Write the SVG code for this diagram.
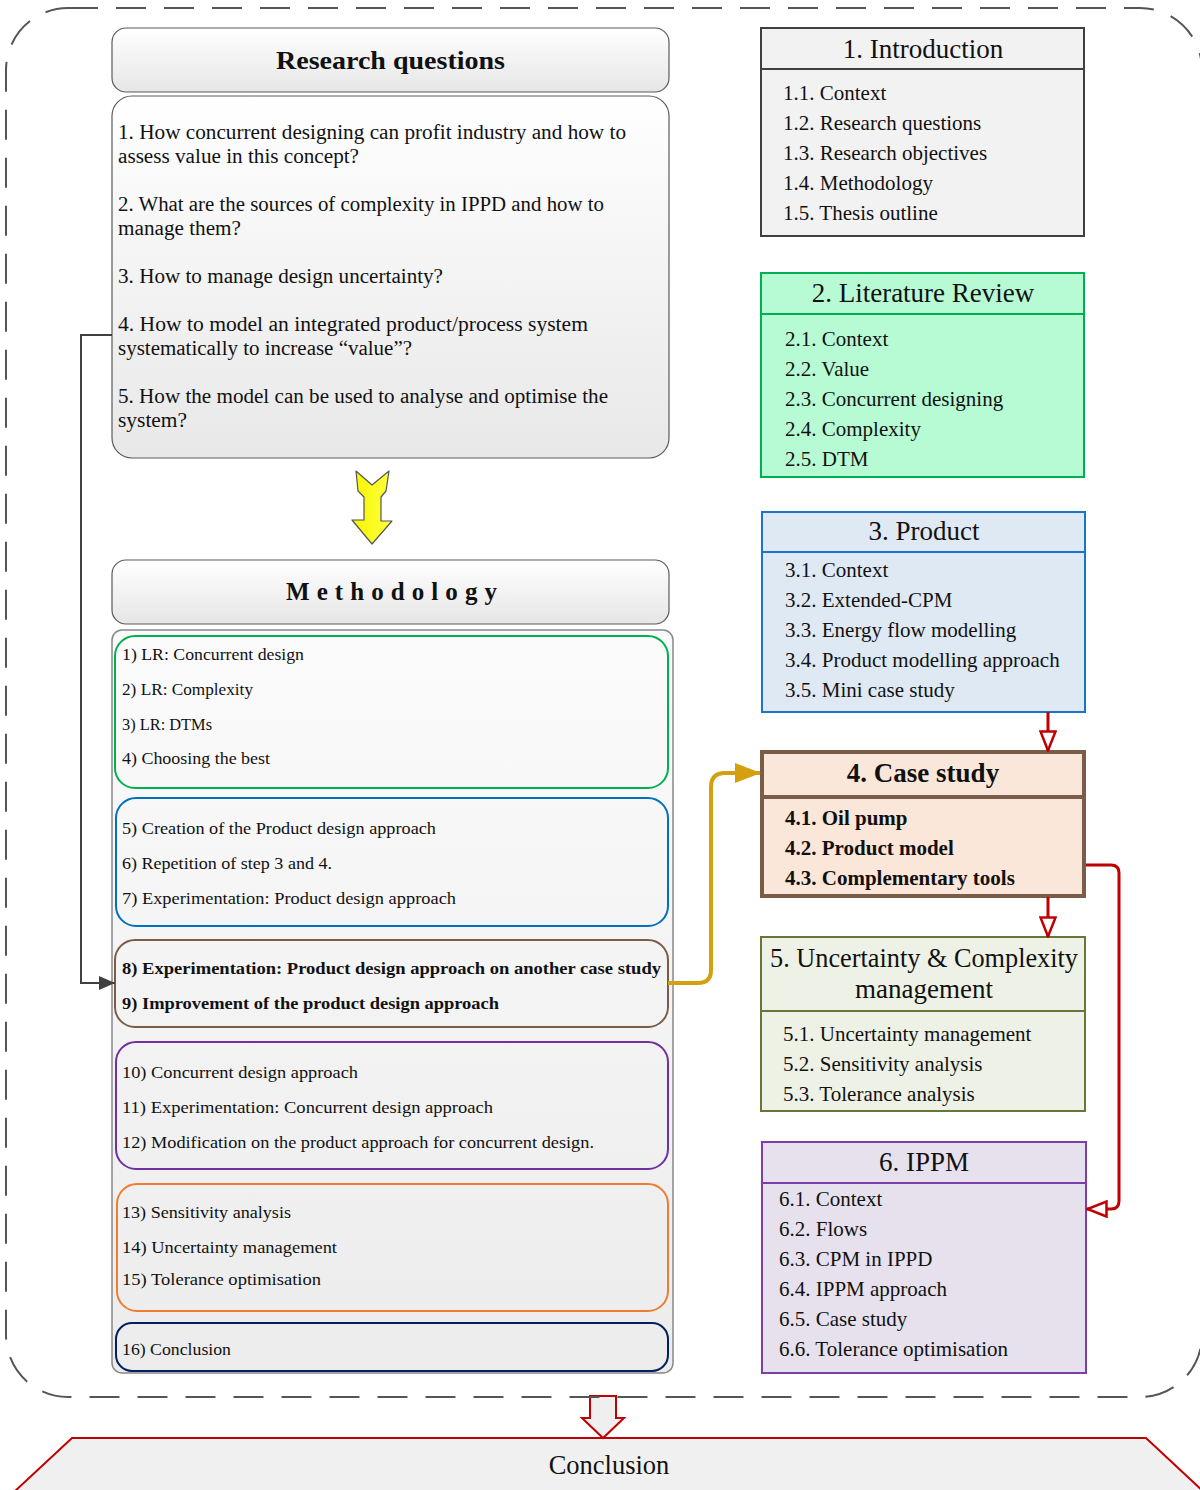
<svg xmlns="http://www.w3.org/2000/svg" width="1200" height="1490" viewBox="0 0 1200 1490">
<defs>
<linearGradient id="gHead" x1="0" y1="0" x2="0" y2="1"><stop offset="0" stop-color="#ffffff"/><stop offset="1" stop-color="#e6e6e6"/></linearGradient>
<linearGradient id="gBody" x1="0" y1="0" x2="0" y2="1"><stop offset="0" stop-color="#ffffff"/><stop offset="1" stop-color="#e8e8e8"/></linearGradient>
<linearGradient id="gMeth" x1="0" y1="0" x2="0" y2="1"><stop offset="0" stop-color="#fbfbfb"/><stop offset="1" stop-color="#ececec"/></linearGradient>
<linearGradient id="gYellow" x1="0" y1="0" x2="1" y2="0"><stop offset="0" stop-color="#f6f600"/><stop offset="1" stop-color="#ffff40"/></linearGradient>
<marker id="openRed" viewBox="0 0 22 18" refX="21" refY="9" markerWidth="22" markerHeight="18" markerUnits="userSpaceOnUse" orient="auto">
<path d="M1.5,1.5 L20.5,9 L1.5,16.5 Z" fill="#ffffff" stroke="#c00000" stroke-width="2.5"/>
</marker>
<marker id="gold" viewBox="0 0 26 20" refX="25" refY="10" markerWidth="26" markerHeight="20" markerUnits="userSpaceOnUse" orient="auto">
<path d="M0,0 L26,10 L0,20 Z" fill="#d4a010"/>
</marker>
<marker id="dark" viewBox="0 0 16 14" refX="16" refY="7" markerWidth="16" markerHeight="14" markerUnits="userSpaceOnUse" orient="auto">
<path d="M0,0 L16,7 L0,14 Z" fill="#404040"/>
</marker>
</defs>
<style>
text{font-family:"Liberation Serif","DejaVu Serif",serif;fill:#111}
.rq{font-size:20px}
.m{font-size:17.5px}
.mb{font-size:17.5px;font-weight:bold}
.t{font-size:27px;text-anchor:middle}
.it{font-size:21px}
.itb{font-size:21px;font-weight:bold}
.lbl{fill:none;stroke-width:2}
</style>
<rect width="1200" height="1490" fill="#ffffff"/>

<g id="conclusion">
<polygon points="14,1492 72,1438 1146,1438 1204,1492" fill="#f0f0f0" stroke="#c00000" stroke-width="2"/>
<text x="609" y="1474" style="font-size:26.5px;text-anchor:middle">Conclusion</text>
</g>

<g id="to-conclusion">
<polygon points="590,1396 616,1396 616,1418 624,1418 603,1438 582,1418 590,1418" fill="#efefef" stroke="#c00000" stroke-width="2"/>
</g>

<g id="frame">
<rect x="6" y="8" width="1196" height="1389" rx="62" ry="62" fill="none" stroke="#555555" stroke-width="2" stroke-dasharray="30 18"/>
</g>

<g id="research-questions">
<rect x="112" y="28" width="557" height="64" rx="14" fill="url(#gHead)" stroke="#5a5a5a" stroke-width="1.2"/>
<text x="276" y="69" textLength="229" lengthAdjust="spacingAndGlyphs" style="font-size:26px;font-weight:bold">Research questions</text>
<rect x="112" y="96" width="557" height="362" rx="20" fill="url(#gBody)" stroke="#5a5a5a" stroke-width="1.2"/>
<text class="rq" x="118" y="139" textLength="508" lengthAdjust="spacingAndGlyphs">1. How concurrent designing can profit industry and how to</text>
<text class="rq" x="118" y="163" textLength="241" lengthAdjust="spacingAndGlyphs">assess value in this concept?</text>
<text class="rq" x="118" y="211" textLength="486" lengthAdjust="spacingAndGlyphs">2. What are the sources of complexity in IPPD and how to</text>
<text class="rq" x="118" y="235" textLength="123" lengthAdjust="spacingAndGlyphs">manage them?</text>
<text class="rq" x="118" y="283" textLength="325" lengthAdjust="spacingAndGlyphs">3. How to manage design uncertainty?</text>
<text class="rq" x="118" y="331" textLength="470" lengthAdjust="spacingAndGlyphs">4. How to model an integrated product/process system</text>
<text class="rq" x="118" y="355" textLength="294" lengthAdjust="spacingAndGlyphs">systematically to increase “value”?</text>
<text class="rq" x="118" y="403" textLength="490" lengthAdjust="spacingAndGlyphs">5. How the model can be used to analyse and optimise the</text>
<text class="rq" x="118" y="427" textLength="69" lengthAdjust="spacingAndGlyphs">system?</text>
</g>

<g id="yellow-arrow">
<polygon points="356,471 372,485 389,471 386,491 381,497 381,521 392,521 372,544 352,520 364,520 364,497 358,491" fill="url(#gYellow)" stroke="#555555" stroke-width="1.2" stroke-linejoin="round"/>
</g>

<g id="methodology">
<rect x="112" y="560" width="557" height="64" rx="14" fill="url(#gHead)" stroke="#5a5a5a" stroke-width="1.2"/>
<text x="286" y="600" textLength="211" lengthAdjust="spacing" style="font-size:25px;font-weight:bold">Methodology</text>
<rect x="112" y="630" width="561" height="743" rx="10" fill="url(#gMeth)" stroke="#888888" stroke-width="1.5"/>
</g>

<g id="m-group1">
<rect x="115" y="636" width="553" height="152" rx="20" class="lbl" stroke="#00b050"/>
<text class="m" x="122" y="660" textLength="182" lengthAdjust="spacingAndGlyphs">1) LR: Concurrent design</text>
<text class="m" x="122" y="695" textLength="131" lengthAdjust="spacingAndGlyphs">2) LR: Complexity</text>
<text class="m" x="122" y="730" textLength="90" lengthAdjust="spacingAndGlyphs">3) LR: DTMs</text>
<text class="m" x="122" y="764" textLength="148" lengthAdjust="spacingAndGlyphs">4) Choosing the best</text>
</g>
<g id="m-group2">
<rect x="116" y="798" width="552" height="128" rx="20" class="lbl" stroke="#0070c0"/>
<text class="m" x="122" y="834" textLength="314" lengthAdjust="spacingAndGlyphs">5) Creation of the Product design approach</text>
<text class="m" x="122" y="869" textLength="210" lengthAdjust="spacingAndGlyphs">6) Repetition of step 3 and 4.</text>
<text class="m" x="122" y="904" textLength="334" lengthAdjust="spacingAndGlyphs">7) Experimentation: Product design approach</text>
</g>
<g id="m-group3">
<rect x="115" y="940" width="553" height="87" rx="20" class="lbl" stroke="#7a5c48"/>
<text class="mb" x="122" y="974" textLength="539" lengthAdjust="spacingAndGlyphs">8) Experimentation: Product design approach on another  case study</text>
<text class="mb" x="122" y="1009" textLength="377" lengthAdjust="spacingAndGlyphs">9) Improvement of the product design approach</text>
</g>
<g id="m-group4">
<rect x="116" y="1042" width="552" height="127" rx="20" class="lbl" stroke="#7030a0"/>
<text class="m" x="122" y="1078" textLength="236" lengthAdjust="spacingAndGlyphs">10) Concurrent design approach</text>
<text class="m" x="122" y="1113" textLength="371" lengthAdjust="spacingAndGlyphs">11) Experimentation:  Concurrent design approach</text>
<text class="m" x="122" y="1148" textLength="472" lengthAdjust="spacingAndGlyphs">12) Modification on the product approach for concurrent design.</text>
</g>
<g id="m-group5">
<rect x="117" y="1184" width="551" height="127" rx="20" class="lbl" stroke="#ed7d31"/>
<text class="m" x="122" y="1218" textLength="169" lengthAdjust="spacingAndGlyphs">13) Sensitivity analysis</text>
<text class="m" x="122" y="1253" textLength="215" lengthAdjust="spacingAndGlyphs">14) Uncertainty management</text>
<text class="m" x="122" y="1285" textLength="199" lengthAdjust="spacingAndGlyphs">15) Tolerance optimisation</text>
</g>
<g id="m-group6">
<rect x="116" y="1323" width="552" height="48" rx="16" class="lbl" stroke="#002060"/>
<text class="m" x="122" y="1355" textLength="109" lengthAdjust="spacingAndGlyphs">16) Conclusion</text>
</g>

<g id="ch1">
<rect x="761" y="28" width="323" height="208" fill="#f2f2f2" stroke="#404040" stroke-width="2"/>
<line x1="761" y1="69" x2="1084" y2="69" stroke="#404040" stroke-width="2"/>
<text class="t" x="923" y="58">1. Introduction</text>
<text class="it" x="783" y="100">1.1. Context</text>
<text class="it" x="783" y="130">1.2. Research questions</text>
<text class="it" x="783" y="160">1.3. Research objectives</text>
<text class="it" x="783" y="190">1.4. Methodology</text>
<text class="it" x="783" y="220">1.5. Thesis outline</text>
</g>

<g id="ch2">
<rect x="761" y="273" width="323" height="204" fill="#b7fbd4" stroke="#00b050" stroke-width="2"/>
<line x1="761" y1="314" x2="1084" y2="314" stroke="#00b050" stroke-width="2"/>
<text class="t" x="923" y="302">2. Literature Review</text>
<text class="it" x="785" y="346">2.1. Context</text>
<text class="it" x="785" y="376">2.2. Value</text>
<text class="it" x="785" y="406">2.3. Concurrent designing</text>
<text class="it" x="785" y="436">2.4. Complexity</text>
<text class="it" x="785" y="466">2.5. DTM</text>
</g>

<g id="ch3">
<rect x="762" y="512" width="323" height="200" fill="#dfe9f4" stroke="#1a75c8" stroke-width="2"/>
<line x1="762" y1="552" x2="1085" y2="552" stroke="#1a75c8" stroke-width="2"/>
<text class="t" x="924" y="540">3. Product</text>
<text class="it" x="785" y="577">3.1. Context</text>
<text class="it" x="785" y="607">3.2. Extended-CPM</text>
<text class="it" x="785" y="637">3.3. Energy flow modelling</text>
<text class="it" x="785" y="667">3.4. Product modelling approach</text>
<text class="it" x="785" y="697">3.5. Mini case study</text>
</g>

<g id="ch4">
<rect x="762" y="752" width="322" height="144" fill="#fbe7d9" stroke="#7a5c48" stroke-width="4"/>
<line x1="762" y1="797" x2="1084" y2="797" stroke="#7a5c48" stroke-width="4"/>
<text class="t" x="923" y="782" style="font-weight:bold">4. Case study</text>
<text class="itb" x="785" y="825">4.1. Oil pump</text>
<text class="itb" x="785" y="855">4.2. Product model</text>
<text class="itb" x="785" y="885">4.3. Complementary tools</text>
</g>

<g id="ch5">
<rect x="761" y="937" width="324" height="174" fill="#eef1e6" stroke="#66773a" stroke-width="2"/>
<line x1="761" y1="1011" x2="1085" y2="1011" stroke="#66773a" stroke-width="2"/>
<text x="770" y="967" textLength="308" lengthAdjust="spacingAndGlyphs" style="font-size:27px">5. Uncertainty &amp; Complexity</text>
<text class="t" x="924" y="998">management</text>
<text class="it" x="783" y="1041">5.1. Uncertainty management</text>
<text class="it" x="783" y="1071">5.2. Sensitivity analysis</text>
<text class="it" x="783" y="1101">5.3. Tolerance analysis</text>
</g>

<g id="ch6">
<rect x="762" y="1142" width="324" height="231" fill="#e6e1ed" stroke="#7c3ea8" stroke-width="2"/>
<line x1="762" y1="1183" x2="1086" y2="1183" stroke="#7c3ea8" stroke-width="2"/>
<text class="t" x="924" y="1171">6. IPPM</text>
<text class="it" x="779" y="1206">6.1. Context</text>
<text class="it" x="779" y="1236">6.2. Flows</text>
<text class="it" x="779" y="1266">6.3. CPM in IPPD</text>
<text class="it" x="779" y="1296">6.4. IPPM approach</text>
<text class="it" x="779" y="1326">6.5. Case study</text>
<text class="it" x="779" y="1356">6.6. Tolerance optimisation</text>
</g>

<g id="connectors" fill="none">
<path d="M112,335 L81,335 L81,983 L115,983" stroke="#404040" stroke-width="2" marker-end="url(#dark)"/>
<path d="M668,983 L698,983 Q711,983 711,970 L711,787 Q711,773 725,773 L760,773" stroke="#d4a010" stroke-width="4" marker-end="url(#gold)"/>
<path d="M1048,712 L1048,751" stroke="#c00000" stroke-width="3" marker-end="url(#openRed)"/>
<path d="M1048,897 L1048,937" stroke="#c00000" stroke-width="3" marker-end="url(#openRed)"/>
<path d="M1086,865 L1111,865 Q1119,865 1119,873 L1119,1201 Q1119,1209 1111,1209 L1087,1209" stroke="#c00000" stroke-width="3" marker-end="url(#openRed)"/>
</g>
</svg>
